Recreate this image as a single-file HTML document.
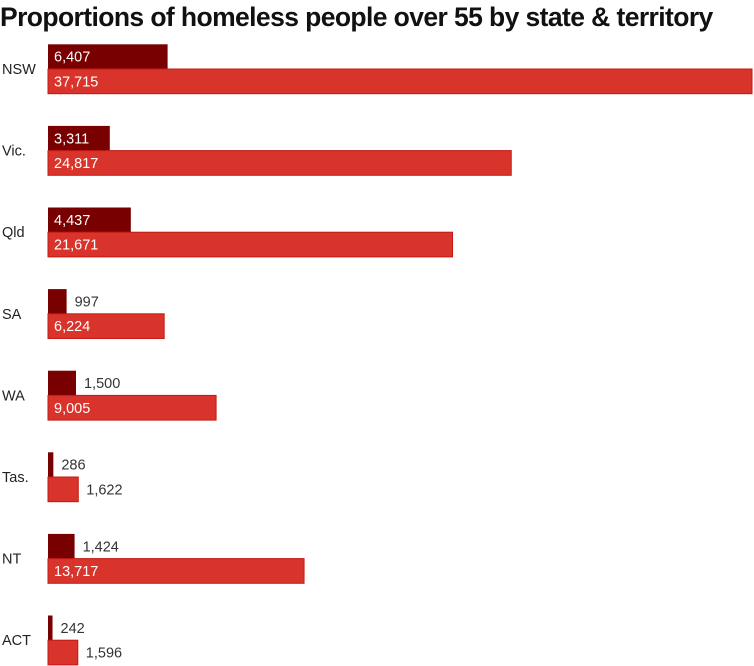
<!DOCTYPE html>
<html><head><meta charset="utf-8"><style>
body{margin:0;background:#fff;font-family:"Liberation Sans",sans-serif;}
#wrap{position:relative;width:754px;height:666px;overflow:hidden;}
h1{position:absolute;left:0;top:0;margin:0;font-size:26.5px;font-weight:bold;letter-spacing:-0.6px;color:#111;line-height:34px;white-space:nowrap;}
</style></head><body>
<div id="wrap">
<h1>Proportions of homeless people over 55 by state &amp; territory</h1>
<svg id="svg" width="754" height="666" style="position:absolute;left:0;top:0"></svg>
</div>
<script>
const categories=["NSW","Vic.","Qld","SA","WA","Tas.","NT","ACT"];
const over55=[6407,3311,4437,997,1500,286,1424,242];
const total=[37715,24817,21671,6224,9005,1622,13717,1596];
const svg=document.getElementById('svg');
const NS='http://www.w3.org/2000/svg';
const x0=48,x1=752,maxV=Math.max(...total);
const xs=v=>v/maxV*(x1-x0);
const y0=44.3,pitch=81.6,bh=24.7;
const fmt=v=>v.toLocaleString('en-US');
function mk(t,a){const e=document.createElementNS(NS,t);for(const k in a)e.setAttribute(k,a[k]);svg.appendChild(e);return e;}
categories.forEach((c,i)=>{
  const y=y0+i*pitch;
  const lab=mk('text',{x:2,y:y+bh+5,'font-size':14.5,fill:'#222','font-family':'Liberation Sans, sans-serif'});
  lab.textContent=c;
  
  
  [[over55[i],'#780000','none','bar-over-55'],[total[i],'#d9342b','#c41a14','bar-total']].forEach((s,j)=>{
    const v=s[0],w=xs(v),yy=y+j*bh;
    const r=mk('rect',{x:x0,y:yy,width:w,height:bh,fill:s[1],stroke:s[2],'stroke-width':1});
    
    
    const inside=w>50;
    const t=mk('text',{x:inside?x0+6:x0+w+8,y:yy+bh/2+5,'font-size':14.5,fill:inside?'#fff':'#333','font-family':'Liberation Sans, sans-serif'});
    t.textContent=fmt(v);
    
    
  });
});
</script>
</body></html>
